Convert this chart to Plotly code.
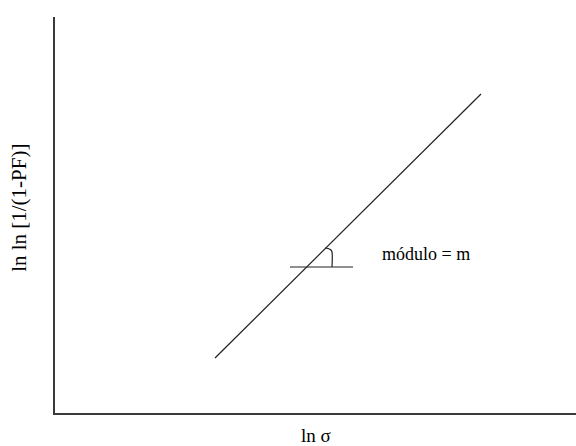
import plotly.graph_objects as go

# Weibull plot sketch: ln ln[1/(1-PF)] versus ln sigma (arbitrary units)
ln_sigma = [160, 426]
ln_ln_pf = [55, 319]

# slope marker: horizontal reference and the small angle hook
ref_x = [235, 298]
ref_y = [146, 146]
hook_x = [270, 273, 276, 277, 277]
hook_y = [165, 164.5, 163, 161, 146]

x_label = "ln σ"
y_label = "ln ln [1/(1-PF)]"
slope_label = "módulo = m"

fig = go.Figure()
fig.add_trace(go.Scatter(x=ln_sigma, y=ln_ln_pf, mode="lines",
                         line=dict(color="#222222", width=1.2), hoverinfo="skip"))
fig.add_trace(go.Scatter(x=ref_x, y=ref_y, mode="lines",
                         line=dict(color="#222222", width=1.2), hoverinfo="skip"))
fig.add_trace(go.Scatter(x=hook_x, y=hook_y, mode="lines",
                         line=dict(color="#222222", width=1.2, shape="spline"),
                         hoverinfo="skip"))

serif = "Liberation Serif, Times New Roman, serif"

fig.add_annotation(x=325, y=159, xref="x", yref="y", text=slope_label,
                   showarrow=False, xanchor="left", yanchor="middle",
                   font=dict(family=serif, size=18, color="#000000"))
fig.add_annotation(x=261, y=0, xref="x", yref="paper", text=x_label,
                   showarrow=False, xanchor="center", yanchor="middle", yshift=-22,
                   font=dict(family=serif, size=19, color="#000000"))
fig.add_annotation(x=0, y=0.518, xref="paper", yref="paper", text=y_label,
                   showarrow=False, textangle=-90, xanchor="center", yanchor="middle",
                   xshift=-36,
                   font=dict(family=serif, size=21, color="#000000"))

axis_common = dict(showgrid=False, zeroline=False, showticklabels=False, ticks="",
                   showline=True, linecolor="#3a3a3a", linewidth=2, fixedrange=True)

fig.update_layout(
    width=576, height=446,
    margin=dict(l=55, r=0, t=17, b=33),
    paper_bgcolor="white", plot_bgcolor="white",
    showlegend=False,
    xaxis=dict(range=[0, 521], **axis_common),
    yaxis=dict(range=[0, 396], **axis_common),
)

fig.write_html("out.html")
